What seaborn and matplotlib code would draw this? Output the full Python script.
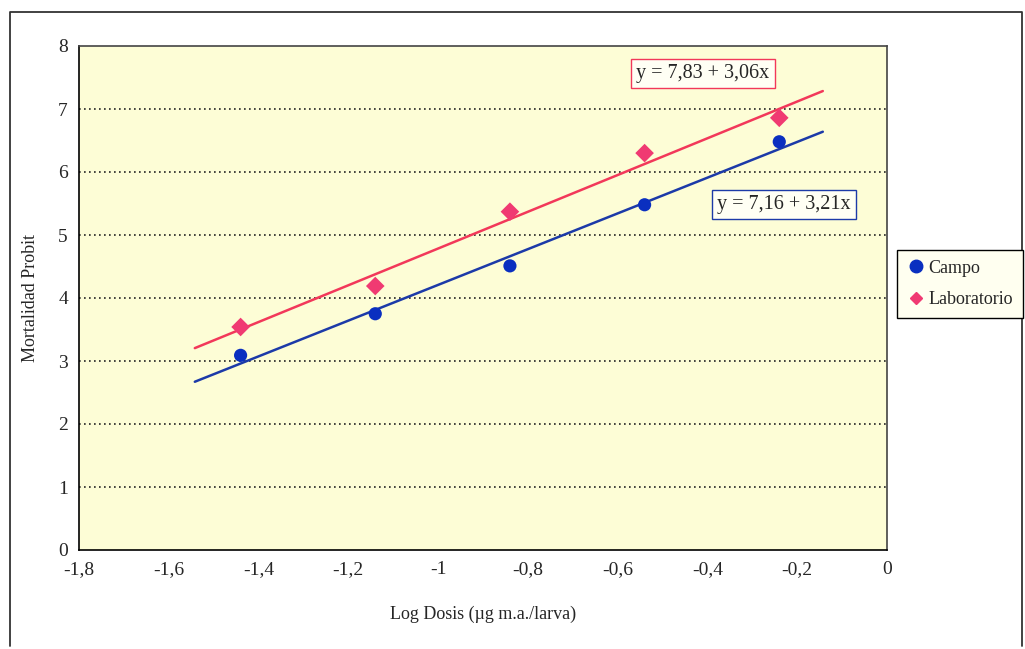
import matplotlib
import matplotlib.pyplot as plt
import numpy as np
import pandas as pd
import seaborn as sns
from matplotlib.lines import Line2D

matplotlib.use("Agg")

# data
log_dose = [-1.44, -1.14, -0.84, -0.54, -0.24]
campo = [3.09, 3.75, 4.51, 5.48, 6.48]
laboratorio = [3.54, 4.19, 5.37, 6.30, 6.86]
series_names = ["Campo", "Laboratorio"]
fit_range = [-1.542, -0.143]
eq_campo = "y = 7,16 + 3,21x"
eq_lab = "y = 7,83 + 3,06x"
x_ticks = [-1.8, -1.6, -1.4, -1.2, -1.0, -0.8, -0.6, -0.4, -0.2, 0.0]
x_tick_labels = ["-1,8", "-1,6", "-1,4", "-1,2", "-1", "-0,8", "-0,6", "-0,4", "-0,2", "0"]
y_ticks = [0, 1, 2, 3, 4, 5, 6, 7, 8]

df = pd.DataFrame({
    "dose": log_dose * 2,
    "probit": campo + laboratorio,
    "serie": [series_names[0]] * len(campo) + [series_names[1]] * len(laboratorio),
})

BLUE_PT = "#0a2fc0"
BLUE_LN = "#1c3aa8"
RED_PT = "#f03a72"
RED_LN = "#f2385a"

sns.set_style("white")
plt.rcParams["font.family"] = ["Liberation Serif", "DejaVu Serif"]

fig = plt.figure(figsize=(10.25, 6.49), dpi=100)
ax = fig.add_axes([79 / 1025, 1 - 550 / 649, 808 / 1025, 504 / 649])
ax.set_facecolor("#fdfdd6")

# regression lines over the span used in the original chart
ax.set_xlim(*fit_range)
sub_c = df[df["serie"] == "Campo"]
sub_l = df[df["serie"] == "Laboratorio"]
sns.regplot(data=sub_c, x="dose", y="probit", ax=ax, scatter=False, ci=None,
            truncate=False, line_kws={"color": BLUE_LN, "lw": 1.8})
sns.regplot(data=sub_l, x="dose", y="probit", ax=ax, scatter=False, ci=None,
            truncate=False, line_kws={"color": RED_LN, "lw": 1.8})

sns.scatterplot(data=df, x="dose", y="probit", hue="serie", style="serie",
                palette={"Campo": BLUE_PT, "Laboratorio": RED_PT},
                markers={"Campo": "o", "Laboratorio": "D"},
                s=90, edgecolor="none", ax=ax, legend=False, zorder=4)

ax.set_xlim(-1.8, 0)
ax.set_ylim(0, 8)
ax.set_xticks(x_ticks)
ax.set_xticklabels(x_tick_labels)
ax.set_yticks(y_ticks)
ax.tick_params(axis="both", direction="out", length=5, width=1, color="black",
               labelsize=14, pad=3)

for y in y_ticks[1:-1]:
    ax.axhline(y, color="#222222", lw=1.2, ls=(0, (1, 2)), zorder=1)

for side in ["left", "bottom"]:
    ax.spines[side].set_color("black")
    ax.spines[side].set_linewidth(1.2)
for side in ["top", "right"]:
    ax.spines[side].set_color("#444444")
    ax.spines[side].set_linewidth(1.2)

ax.set_xlabel("Log Dosis (µg m.a./larva)", fontsize=13, labelpad=20)
ax.set_ylabel("Mortalidad Probit", fontsize=13, labelpad=14)

ax.text(-0.41, 7.56, eq_lab, fontsize=14.5, ha="center", va="center",
        bbox=dict(boxstyle="square,pad=0.25", fc="#fffff4", ec=RED_LN, lw=1))
ax.text(-0.229, 5.48, eq_campo, fontsize=14.5, ha="center", va="center",
        bbox=dict(boxstyle="square,pad=0.25", fc="#fffff4", ec=BLUE_LN, lw=1))

handles = [
    Line2D([], [], ls="none", marker="o", color=BLUE_PT, markersize=9, label="Campo"),
    Line2D([], [], ls="none", marker="D", color=RED_PT, markersize=6.5, label="Laboratorio"),
]
fig.legend(handles=handles, loc="center left", bbox_to_anchor=(897 / 1025, 1 - 284 / 649),
           frameon=True, fontsize=13, handletextpad=0.2, borderpad=0.55,
           borderaxespad=0, labelspacing=0.8, handlelength=1.0, fancybox=False,
           edgecolor="black", facecolor="#fffff0", framealpha=1)

# outer chart border
fig.add_artist(Line2D([10 / 1025, 10 / 1025, 1022 / 1025, 1022 / 1025],
                      [3 / 649, 1 - 12 / 649, 1 - 12 / 649, 3 / 649],
                      transform=fig.transFigure, color="#333333", lw=1.3))

fig.savefig("out.png", dpi=100)
